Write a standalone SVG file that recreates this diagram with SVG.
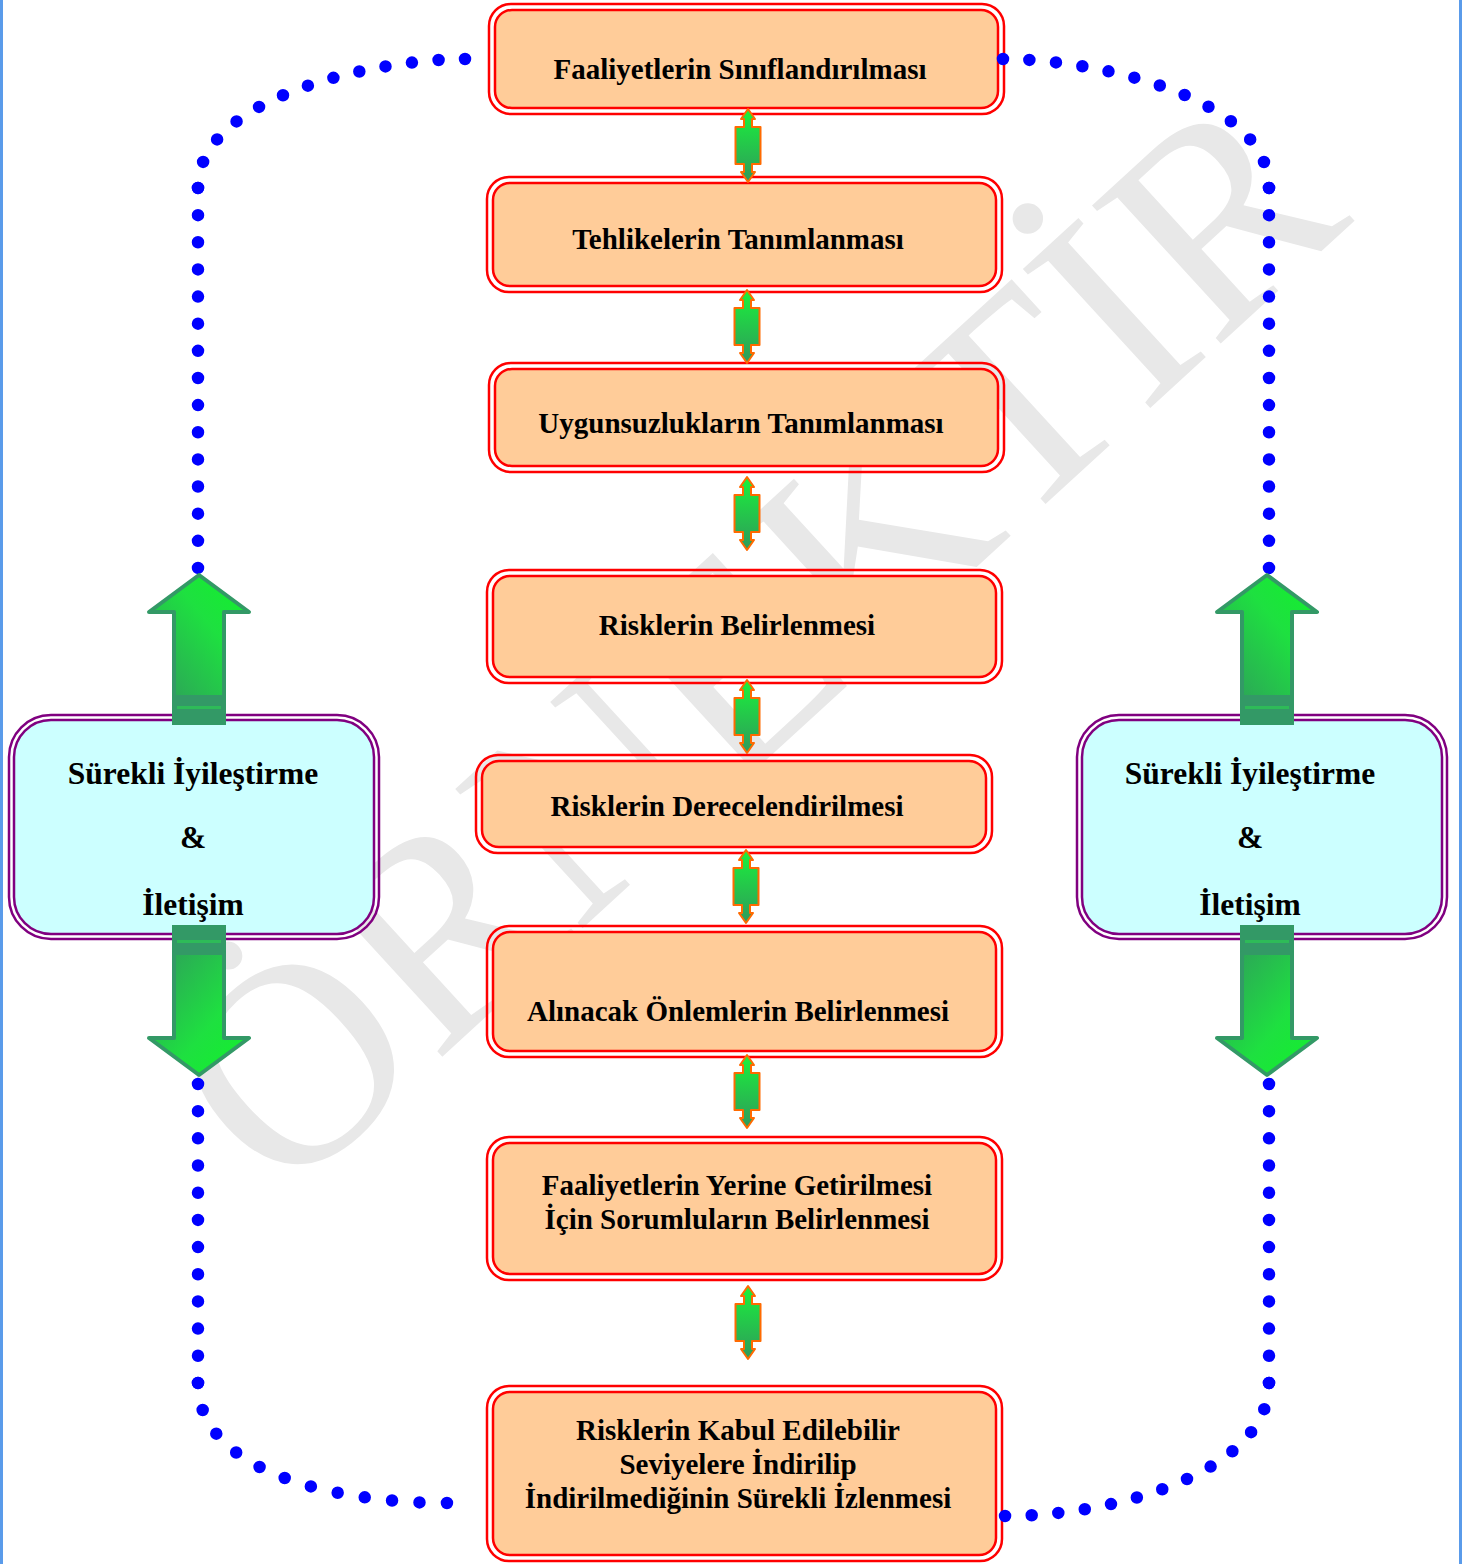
<svg xmlns="http://www.w3.org/2000/svg" width="1462" height="1564" viewBox="0 0 1462 1564">
<style>
.boxo{fill:none;stroke:#FF0000;stroke-width:2.5}
.boxi{fill:#FFCC99;stroke:#FF0000;stroke-width:2.5}
.sideo{fill:none;stroke:#800080;stroke-width:2.5}
.sidei{fill:#CCFFFF;stroke:#800080;stroke-width:2.5}
.t{font-family:"Liberation Serif","Times New Roman",serif;font-weight:bold;font-size:29px;fill:#000;text-anchor:middle}
.ts{font-family:"Liberation Serif","Times New Roman",serif;font-weight:bold;font-size:31.5px;fill:#000;text-anchor:middle}
.dots{fill:none;stroke:#0000FF;stroke-width:12.5;stroke-linecap:round;stroke-dasharray:0 1}
.big{stroke:#339966;stroke-width:4;stroke-linejoin:round}
.band{fill:#339966}
.stripe{fill:#2EBB58}
.small{fill:url(#gs);stroke:#FF6A00;stroke-width:2;stroke-linejoin:round}
</style>
<defs>
<linearGradient id="gs" x1="0" y1="0" x2="0" y2="1">
<stop offset="0" stop-color="#1AF23A"/>
<stop offset="1" stop-color="#2F9A5C"/>
</linearGradient>
<linearGradient id="gup" x1="0" y1="1" x2="1" y2="0">
<stop offset="0" stop-color="#2F9A5C"/>
<stop offset="0.6" stop-color="#1EE040"/>
<stop offset="1" stop-color="#11F22A"/>
</linearGradient>
<linearGradient id="gdn" x1="0" y1="0" x2="1" y2="1">
<stop offset="0" stop-color="#2F9A5C"/>
<stop offset="0.6" stop-color="#1EE040"/>
<stop offset="1" stop-color="#11F22A"/>
</linearGradient>
<path id="sa" d="M0,0 L7,10 L4,10 L4,18 L12.5,18 L12.5,55 L4,55 L4,63 L7,63 L0,73 L-7,63 L-4,63 L-4,55 L-12.5,55 L-12.5,18 L-4,18 L-4,10 L-7,10 Z"/>
</defs>
<rect x="0" y="0" width="1462" height="1564" fill="#FFFFFF"/>
<rect x="0" y="0" width="3" height="1564" fill="#5A9BEA"/>
<rect x="1459" y="0" width="3" height="1564" fill="#5A9BEA"/>

<g id="watermark" transform="translate(752,640) rotate(-42.5)">
<text x="0" y="98" font-family="'Liberation Serif','Times New Roman',serif" font-size="288" fill="#E8E8E8" text-anchor="middle">ÖRNEKTİR</text>
</g>

<g id="n1">
<rect class="boxo" x="489" y="4" width="515" height="110" rx="22"/>
<rect class="boxi" x="495" y="10" width="503" height="98" rx="17"/>
<text class="t" x="740" y="79">Faaliyetlerin Sınıflandırılması</text>
</g>
<g id="n2">
<rect class="boxo" x="487" y="177" width="515" height="115" rx="22"/>
<rect class="boxi" x="493" y="183" width="503" height="103" rx="17"/>
<text class="t" x="738" y="249">Tehlikelerin Tanımlanması</text>
</g>
<g id="n3">
<rect class="boxo" x="489" y="363" width="515" height="109" rx="22"/>
<rect class="boxi" x="495" y="369" width="503" height="97" rx="17"/>
<text class="t" x="741" y="433">Uygunsuzlukların Tanımlanması</text>
</g>
<g id="n4">
<rect class="boxo" x="487" y="570" width="515" height="113" rx="22"/>
<rect class="boxi" x="493" y="576" width="503" height="101" rx="17"/>
<text class="t" x="737" y="635">Risklerin Belirlenmesi</text>
</g>
<g id="n5">
<rect class="boxo" x="476" y="755" width="516" height="98" rx="22"/>
<rect class="boxi" x="482" y="761" width="504" height="86" rx="17"/>
<text class="t" x="727" y="816">Risklerin Derecelendirilmesi</text>
</g>
<g id="n6">
<rect class="boxo" x="487" y="926" width="515" height="131" rx="22"/>
<rect class="boxi" x="493" y="932" width="503" height="119" rx="17"/>
<text class="t" x="738" y="1021">Alınacak Önlemlerin Belirlenmesi</text>
</g>
<g id="n7">
<rect class="boxo" x="487" y="1137" width="515" height="143" rx="22"/>
<rect class="boxi" x="493" y="1143" width="503" height="131" rx="17"/>
<text class="t" x="737" y="1195">Faaliyetlerin Yerine Getirilmesi</text>
<text class="t" x="737" y="1229">İçin Sorumluların Belirlenmesi</text>
</g>
<g id="n8">
<rect class="boxo" x="487" y="1386" width="515" height="175" rx="22"/>
<rect class="boxi" x="493" y="1392" width="503" height="163" rx="17"/>
<text class="t" x="738" y="1440">Risklerin Kabul Edilebilir</text>
<text class="t" x="738" y="1474">Seviyelere İndirilip</text>
<text class="t" x="738" y="1508">İndirilmediğinin Sürekli İzlenmesi</text>
</g>

<g id="connectors">
<path class="dots" pathLength="12.002" d="M465,59 C380,59 198,95 198,188"/>
<path class="dots" pathLength="14.002" d="M198,188 L198,568"/>
<path class="dots" pathLength="11.002" d="M198,1084 L198,1383"/>
<path class="dots" pathLength="11.002" d="M198,1383 C198,1470 330,1503 447,1503"/>
<path class="dots" pathLength="12.002" d="M1003,59 C1090,59 1269,95 1269,188"/>
<path class="dots" pathLength="14.002" d="M1269,188 L1269,568"/>
<path class="dots" pathLength="11.002" d="M1269,1084 L1269,1383"/>
<path class="dots" pathLength="12.002" d="M1269,1383 C1269,1470 1120,1516 1005,1516"/>
<use href="#sa" class="small" transform="translate(748,109)"/>
<use href="#sa" class="small" transform="translate(747,290)"/>
<use href="#sa" class="small" transform="translate(747,477)"/>
<use href="#sa" class="small" transform="translate(747,680)"/>
<use href="#sa" class="small" transform="translate(746,850)"/>
<use href="#sa" class="small" transform="translate(747,1055)"/>
<use href="#sa" class="small" transform="translate(748,1286)"/>
</g>

<g id="left">
<rect class="sideo" x="9" y="715" width="370" height="224" rx="42"/>
<rect class="sidei" x="14" y="720" width="360" height="214" rx="37"/>
<text class="ts" x="193" y="784">Sürekli İyileştirme</text>
<text class="ts" x="193" y="848">&amp;</text>
<text class="ts" x="193" y="915">İletişim</text>
<path class="big" fill="url(#gup)" d="M199,575 L249,612 L224,612 L224,697 L174,697 L174,612 L149,612 Z"/>
<rect class="band" x="172" y="697" width="54" height="28"/>
<rect class="stripe" x="177" y="706" width="44" height="3"/>
<rect class="band" x="172" y="925" width="54" height="28"/>
<rect class="stripe" x="177" y="940" width="44" height="3"/>
<path class="big" fill="url(#gdn)" d="M199,1075 L249,1038 L224,1038 L224,953 L174,953 L174,1038 L149,1038 Z"/>
</g>

<g id="right">
<rect class="sideo" x="1077" y="715" width="370" height="224" rx="42"/>
<rect class="sidei" x="1082" y="720" width="360" height="214" rx="37"/>
<text class="ts" x="1250" y="784">Sürekli İyileştirme</text>
<text class="ts" x="1250" y="848">&amp;</text>
<text class="ts" x="1250" y="915">İletişim</text>
<path class="big" fill="url(#gup)" d="M1267,575 L1317,612 L1292,612 L1292,697 L1242,697 L1242,612 L1217,612 Z"/>
<rect class="band" x="1240" y="697" width="54" height="28"/>
<rect class="stripe" x="1245" y="706" width="44" height="3"/>
<rect class="band" x="1240" y="925" width="54" height="28"/>
<rect class="stripe" x="1245" y="940" width="44" height="3"/>
<path class="big" fill="url(#gdn)" d="M1267,1075 L1317,1038 L1292,1038 L1292,953 L1242,953 L1242,1038 L1217,1038 Z"/>
</g>
</svg>
